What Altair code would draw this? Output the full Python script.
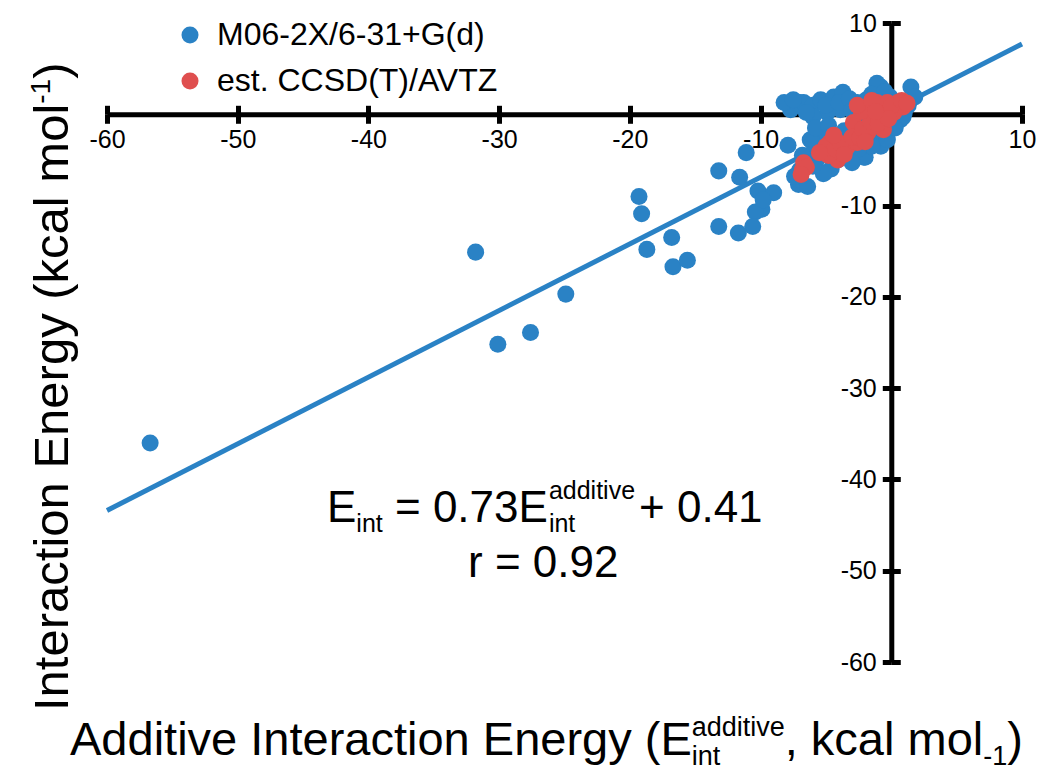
import altair as alt
import pandas as pd

# ---------------- data ----------------
series_names = ["M06-2X/6-31+G(d)", "est. CCSD(T)/AVTZ"]
series_colors = ["#2a82c5", "#df4f4f"]

blue_x = [-56.7, -31.8, -30.1, -27.6, -24.9, -19.3, -19.1, -18.7, -16.8, -16.7,
          -15.6, -13.2, -13.2, -11.6, -11.1, -10.2, -9.0, -9.9, -10.4, -10.6,
          -11.7, -7.9, -7.1, -9.8, -7.0, -7.7, -6.7, -6.0, -5.4, -4.4,
          -3.7, -3.9, -4.9, -6.0, -2.6, -2.4, -0.8, -1.1, -0.1, 1.5,
          1.8, 0.7, 0.9, -6.2, -5.2, -7.0, -7.0, -6.4, -5.7, -4.1,
          -3.1, -2.1, -1.1, -0.6, -6.0, -6.2, -5.1, -2.0,
          -6.5, -5.0, -4.0, -3.2, -3.0, -1.9, -1.5, -0.5, 0.2, 1.0,
          1.3, 0.3, -0.3, -0.8, -1.5, -2.5, -3.0, -4.6, -5.2, -6.0,
          -6.8, -7.4, -5.8, -4.8, -3.6, -2.7, -8.2, -7.5, -0.3, 0.2]
blue_y = [-36.0, -15.1, -25.2, -23.9, -19.7, -9.0, -10.9, -14.8, -13.5, -16.7,
          -16.0, -6.2, -12.3, -6.9, -4.2, -8.4, -8.6, -10.4, -10.7, -12.3,
          -13.0, -3.4, -7.7, -9.4, 1.3, 0.5, 1.3, 1.0, 1.6, 1.9,
          2.4, 0.5, 0.2, -0.3, 1.3, -0.3, 3.0, 3.4, 1.9, 3.0,
          1.9, -0.6, -0.3, -2.8, -2.2, -6.1, -7.2, -7.9, -5.0, -5.0,
          -4.2, -4.7, -2.5, -2.8, -3.1, -4.5, -6.4, -4.7,
          0.2, 1.0, 1.3, 1.7, 0.4, 1.6, 2.2, 2.5, 0.5, 0.2,
          1.0, -1.5, -1.2, -3.5, -3.5, -3.8, -5.3, -6.0, -6.5, -5.7,
          -4.5, -6.8, -1.5, -1.2, -1.8, -1.2, 1.3, 1.6, -2.8, -1.4]

red_x = [-6.8, -6.7, -4.5, -4.1, -3.4, -2.6, -2.9, -1.8, -1.4, -0.8,
         -1.8, -1.1, -0.3, 0.5, 0.9, -0.3, -0.6, -3.9, -4.7, 0.2,
         -6.5, -6.9, -5.0, -4.8, -4.3, -3.9, -3.6, -3.0, -2.4, -2.2,
         -1.6, -1.0, -2.3, -2.6, -1.5, 0.0, 0.8, 1.2, -0.2, -1.2,
         -5.5, -4.4, -2.0]
red_y = [-6.1, -5.3, -2.8, -5.0, -3.6, -3.1, -0.9, -2.0, -1.4, -0.6,
         0.8, 1.3, 1.3, 1.3, 0.8, 0.2, -1.7, -4.2, -3.1, 0.2,
         -5.8, -6.6, -3.5, -4.5, -3.8, -3.2, -4.4, -2.5, -2.6, -1.6,
         -0.8, -1.0, 0.3, 1.0, 1.5, 0.9, 1.5, 1.2, -0.5, 0.3,
         -4.2, -2.3, -3.0]

fit_x = [-60, 10]
fit_y = [-43.4, 7.7]

x_ticks = [-60, -50, -40, -30, -20, -10, 10]
y_ticks = [-60, -50, -40, -30, -20, -10, 10]
domain = [-60, 10]

# ---------------- layout ----------------
FONT = "Liberation Sans"
W, H = 915, 639
PX0, PY0 = 107, 23            # page position of the plot origin
AX_Y = H * 10 / 70            # pixel row of y = 0
AX_X = W * 60 / 70            # pixel column of x = 0
TICK = 9

AW = {"A": 667, "E": 667, "I": 278, "a": 556, "c": 500, "d": 556, "e": 556,
      "g": 556, "i": 222, "k": 500, "l": 222, "m": 833, "n": 556, "o": 556,
      "r": 333, "t": 278, "v": 500, "y": 500, " ": 278, "=": 584, "+": 584,
      ".": 278, ",": 278, "-": 333, "(": 333, ")": 333}


def tw(s, size):
    return sum(AW.get(c, 556) for c in s) * size / 1000.0


df = pd.DataFrame({
    "x": blue_x + red_x,
    "y": blue_y + red_y,
    "series": [series_names[0]] * len(blue_x) + [series_names[1]] * len(red_x),
})
fit_df = pd.DataFrame({"x": fit_x, "y": fit_y})

xscale = alt.Scale(domain=domain, nice=False, zero=False)
yscale = alt.Scale(domain=domain, nice=False, zero=False)

axis_common = dict(grid=False, title=None, domainColor="black", domainWidth=5,
                   tickColor="black", tickWidth=5, tickSize=TICK,
                   labelFont=FONT, labelFontSize=25, labelColor="black",
                   labelOverlap=False, labelFlush=False,
                   labelExpr="'' + datum.value")

line = alt.Chart(fit_df).mark_line(color=series_colors[0], strokeWidth=5).encode(
    x=alt.X("x:Q", scale=xscale,
            axis=alt.Axis(orient="top", values=x_ticks, offset=-AX_Y, labels=False,
                          domain=False, grid=False, title=None, tickColor="black",
                          tickWidth=5, tickSize=TICK)),
    y=alt.Y("y:Q", scale=yscale,
            axis=alt.Axis(orient="right", values=y_ticks, offset=-(W - AX_X), labels=False,
                          domain=False, grid=False, title=None, tickColor="black",
                          tickWidth=5, tickSize=TICK)),
)

points = alt.Chart(df).mark_circle(size=290, opacity=1).encode(
    x=alt.X("x:Q", scale=xscale,
            axis=alt.Axis(orient="bottom", values=x_ticks, offset=-(H - AX_Y),
                          labelPadding=4, **axis_common)),
    y=alt.Y("y:Q", scale=yscale,
            axis=alt.Axis(orient="left", values=y_ticks, offset=-AX_X,
                          labelPadding=6, **axis_common)),
    color=alt.Color("series:N",
                    scale=alt.Scale(domain=series_names, range=series_colors),
                    legend=alt.Legend(orient="none", legendX=67, legendY=-4, title=None,
                                      labelFont=FONT, labelFontSize=32, labelColor="black",
                                      labelLimit=0,
                                      symbolType="circle", symbolSize=290,
                                      symbolStrokeWidth=0, rowPadding=14,
                                      labelOffset=11, padding=0)),
)

# ---------------- text annotations ----------------
texts = []


def add_text(s, px, py, size, angle=0):
    texts.append(
        alt.Chart(alt.Data(values=[{"k": 1}])).mark_text(
            text=s, font=FONT, fontSize=size, color="black", align="left",
            baseline="alphabetic", angle=angle
        ).encode(x=alt.value(px - PX0), y=alt.value(py - PY0))
    )


# regression equation
F, f = 44, 25
bx, by = 327, 522
add_text("E", bx, by, F)
cx = bx + tw("E", F)
add_text("int", cx, by + 10, f)
cx += tw("int", f) + tw(" ", F)
add_text("= 0.73E", cx, by, F)
cx += tw("= 0.73E", F)
add_text("additive", cx + 1, by - 23, f)
add_text("int", cx + 1, by + 10, f)
cx += tw("additive", f) + 5
add_text("+ 0.41", cx, by, F)

add_text("r = 0.92", 468, 577, F)

# x-axis title
FT, ft = 47, 27
tx, ty = 70, 755
add_text("Additive Interaction Energy (E", tx, ty, FT)
cx = tx + tw("Additive Interaction Energy (E", FT)
add_text("additive", cx, ty - 19, ft)
add_text("int", cx, ty + 10, ft)
cx += tw("additive", ft)
add_text(", kcal mol", cx, ty, FT)
cx += tw(", kcal mol", FT)
add_text("-1", cx, ty + 10, ft)
cx += tw("-1", ft)
add_text(")", cx, ty, FT)

# y-axis title (rotated)
FY, fy = 49, 28
yx, yy = 68, 711
add_text("Interaction Energy (kcal mol", yx, yy, FY, 270)
cy = yy - tw("Interaction Energy (kcal mol", FY)
add_text("-1", yx - 18, cy, fy, 270)
cy -= tw("-1", fy)
add_text(")", yx, cy, FY, 270)

chart = alt.layer(line, points, *texts).resolve_axis(
    x="independent", y="independent"
).properties(
    width=W, height=H,
    background="white",
    padding={"left": PX0 - 8, "top": PY0 - 8, "right": 1042 - PX0 - W, "bottom": 762 - (PY0 - 8) - H},
    autosize=alt.AutoSizeParams(type="none"),
).configure_view(stroke="transparent", strokeWidth=0)

chart.save("out.html", embed_options={"renderer": "svg", "actions": False})
